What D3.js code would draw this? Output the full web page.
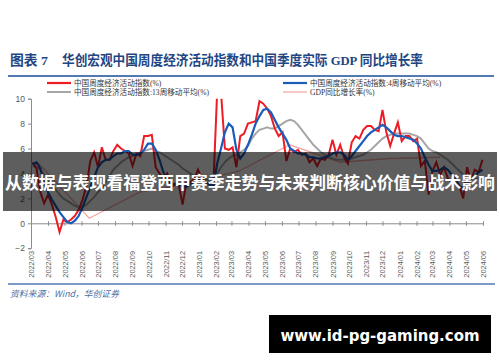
<!DOCTYPE html>
<html><head><meta charset="utf-8">
<script src="https://cdn.jsdelivr.net/npm/d3@7"></script>
<style>body{margin:0;background:#fff}svg{display:block}</style>
</head><body>
<svg id="c" width="500" height="362"></svg>
<script>
// ---- data ----
const monthLabels = ["2022/03","2022/04","2022/05","2022/06","2022/07","2022/08","2022/09","2022/10","2022/11","2022/12",
"2023/01","2023/02","2023/03","2023/04","2023/05","2023/06","2023/07","2023/08","2023/09","2023/10","2023/11","2023/12",
"2024/01","2024/02","2024/03","2024/04","2024/05","2024/06"];
const yTicks = [-2,0,2,4,6,8,10];
const weekStart = "2022-03-04";
const weeklyIndex = [4.9,4.4,2.5,1.6,2.3,1.5,0.5,-0.7,0.3,0.1,0.3,0.6,1.1,1.9,3.0,5.0,5.7,4.5,6.1,5.1,
5.1,5.8,6.3,6.0,5.8,5.6,4.6,5.6,5.4,7.0,7.0,7.1,4.5,4.0,3.6,4.0,2.9,3.2,3.1,1.5,
3.3,3.3,3.5,4.3,3.6,3.3,3.1,3.0,10.6,10.5,6.0,5.9,6.1,4.5,7.0,7.2,8.0,8.1,8.2,9.8,
9.6,9.2,8.6,7.6,7.0,7.3,5.0,6.0,5.7,5.9,5.5,5.6,4.9,5.2,4.6,5.2,5.1,5.5,6.7,5.5,
6.3,5.3,4.8,6.5,7.0,6.8,7.5,7.8,7.8,7.5,7.4,9.1,7.3,6.2,7.2,8.1,6.6,7.0,7.0,6.6,
6.8,4.6,5.0,2.3,4.2,4.9,3.9,4.5,3.6,3.3,3.3,3.0,2.0,4.5,3.4,4.3,4.1,5.1];
const ma4 = [4.7,4.9,4.4,3.2,2.5,1.9,1.4,0.9,0.5,0.1,0.0,0.2,0.6,1.3,2.1,2.9,3.7,4.5,4.9,5.1,
5.1,5.4,5.6,5.6,5.8,5.8,5.5,5.5,5.6,5.9,6.4,6.4,5.9,5.1,4.1,3.5,3.2,3.1,3.1,3.0,
2.9,3.1,3.3,3.5,3.4,3.2,3.1,3.0,4.8,6.0,7.3,8.0,7.7,5.9,5.2,5.6,6.3,7.1,8.0,8.6,
9.1,9.2,8.9,8.3,7.7,7.2,6.7,6.0,5.8,5.6,5.6,5.5,5.3,5.3,5.2,5.2,5.3,5.4,5.6,5.7,
5.7,5.5,5.1,5.4,5.8,6.2,6.6,7.0,7.3,7.5,7.7,7.9,7.7,7.4,7.1,7.0,7.0,6.9,6.8,6.7,
6.4,6.0,5.3,4.7,4.2,4.2,4.3,4.5,4.3,3.9,3.5,3.0,2.8,3.2,3.5,3.8,4.1,4.3];
const ma13 = [4.6,4.5,4.3,3.9,3.5,3.1,2.7,2.3,2.0,1.8,1.6,1.4,1.3,1.3,1.5,1.8,2.1,2.5,2.8,3.3,
3.8,4.3,4.6,4.9,5.1,5.3,5.4,5.5,5.7,5.8,5.9,6.0,5.8,5.7,5.5,5.3,5.1,4.9,4.7,4.4,
4.2,4.0,3.8,3.7,3.6,3.5,3.5,3.6,4.0,4.5,4.9,5.2,5.4,5.5,5.7,5.9,6.2,6.8,7.2,7.5,
7.6,7.7,7.6,7.6,7.8,8.0,8.2,8.3,8.2,7.9,7.5,7.1,6.7,6.3,6.0,5.7,5.5,5.3,5.2,5.1,
5.1,5.1,5.1,5.2,5.3,5.4,5.5,5.7,5.9,6.2,6.5,6.8,7.0,7.1,7.2,7.2,7.2,7.2,7.2,7.1,
7.0,6.8,6.4,6.0,5.8,5.7,5.5,5.3,5.1,4.8,4.5,4.2,3.9,3.7,3.6,3.6,3.6,3.7];
const gdpDates = ["2021-12-15","2022-03-15","2022-06-15","2022-09-15","2022-12-15","2023-03-15","2023-06-15","2023-09-15","2023-12-15","2024-03-15"];
const gdpValues = [4.3,4.8,0.4,2.5,3.2,4.2,6.3,4.9,5.2,5.3];
const legendNames = ["中国周度经济活动指数(%)","中国周度经济活动指数:13周移动平均(%)","中国周度经济活动指数:4周移动平均(%)","GDP同比增长率(%)"];
const colors = {idx:"#ee1c25", ma13:"#a6a6a6", ma4:"#1a5cb8", gdp:"#f3aaa6"};

// ---- build ----
const svg = d3.select("#c");
const parse = d3.timeParse("%Y-%m-%d");
const t0 = parse(weekStart);
const weekDates = weeklyIndex.map((_, i) => d3.timeDay.offset(t0, 7 * i));
const monthDates = monthLabels.map(s => d3.timeParse("%Y/%m")(s));

const x = d3.scaleTime().domain([monthDates[0], monthDates[monthDates.length - 1]]).range([31, 483]);
const y = d3.scaleLinear().domain([-2, 10]).range([248.2, 98.7]);

// title
const titleFont = "'Liberation Serif','Noto Sans CJK SC'";
svg.append("text").attr("x", 10).attr("y", 65)
  .attr("font-family", titleFont).attr("font-weight", 700)
  .attr("font-size", 13.5).attr("fill", "#1f4682")
  .attr("textLength", 38).attr("lengthAdjust", "spacingAndGlyphs")
  .text("图表 7");
svg.append("text").attr("x", 62).attr("y", 65)
  .attr("font-family", titleFont).attr("font-weight", 700)
  .attr("font-size", 13.5).attr("fill", "#1f4682")
  .attr("textLength", 361).attr("lengthAdjust", "spacingAndGlyphs")
  .text("华创宏观中国周度经济活动指数和中国季度实际 GDP 同比增长率");
svg.append("line").attr("x1", 8).attr("x2", 494).attr("y1", 76).attr("y2", 76)
  .attr("stroke", "#5279b0").attr("stroke-width", 2);

// legend
const legendItems = [
  {name: legendNames[0], c: colors.idx, w: 2.2, lx: 47, ly: 83},
  {name: legendNames[1], c: colors.ma13, w: 2, lx: 47, ly: 92},
  {name: legendNames[2], c: colors.ma4, w: 2.2, lx: 283, ly: 83},
  {name: legendNames[3], c: colors.gdp, w: 1.3, lx: 283, ly: 92}
];
const lg = svg.append("g");
legendItems.forEach(d => {
  lg.append("line").attr("x1", d.lx).attr("x2", d.lx + 24).attr("y1", d.ly).attr("y2", d.ly)
    .attr("stroke", d.c).attr("stroke-width", d.w);
  lg.append("text").attr("x", d.lx + 27).attr("y", d.ly + 3)
    .attr("font-family", "'Liberation Serif','Noto Sans CJK SC'").attr("font-size", 7.6).attr("fill", "#333")
    .text(d.name);
});

// axes
const yAxis = d3.axisLeft(y).tickValues(yTicks).tickSize(3).tickPadding(3);
const gy = svg.append("g").attr("transform", "translate(31,0)").call(yAxis);
gy.select(".domain").attr("stroke", "#8c8c8c");
gy.selectAll(".tick line").attr("stroke", "#8c8c8c");
gy.selectAll("text").attr("font-family", "'Liberation Sans',Arial").attr("font-size", 8.5).attr("fill", "#595959");

const xAxis = d3.axisBottom(x).tickValues(monthDates).tickSize(0).tickFormat("");
const gx = svg.append("g").attr("transform", `translate(0,${y(0)})`).call(xAxis);
gx.select(".domain").attr("stroke", "#8c8c8c");
gx.selectAll(".tick").append("line").attr("y1", -2).attr("y2", 2.5).attr("stroke", "#8c8c8c");

svg.append("g").selectAll("text").data(monthDates).join("text")
  .attr("transform", (d) => `translate(${x(d) + 3},251) rotate(-90)`)
  .attr("text-anchor", "end")
  .attr("font-family", "'Liberation Sans',Arial").attr("font-size", 7.4).attr("fill", "#595959")
  .text((d, i) => monthLabels[i]);

// plot
svg.append("clipPath").attr("id", "clip").append("rect")
  .attr("x", 31).attr("y", y(10)).attr("width", 453).attr("height", y(-2) - y(10));
const plot = svg.append("g").attr("clip-path", "url(#clip)");
const line = d3.line().x(d => x(d[0])).y(d => y(d[1]));

plot.append("path").datum(gdpDates.map((s, i) => [parse(s), gdpValues[i]]))
  .attr("d", line).attr("fill", "none").attr("stroke", colors.gdp).attr("stroke-width", 1.3);
plot.append("path").datum(weekDates.map((d, i) => [d, ma13[i]]))
  .attr("d", line).attr("fill", "none").attr("stroke", colors.ma13).attr("stroke-width", 2);
plot.append("path").datum(weekDates.map((d, i) => [d, weeklyIndex[i]]))
  .attr("d", line).attr("fill", "none").attr("stroke", colors.idx).attr("stroke-width", 2);
plot.append("path").datum(weekDates.map((d, i) => [d, ma4[i]]))
  .attr("d", line).attr("fill", "none").attr("stroke", colors.ma4).attr("stroke-width", 2.2);

// footer
svg.append("line").attr("x1", 8).attr("x2", 495).attr("y1", 284).attr("y2", 284)
  .attr("stroke", "#5279b0").attr("stroke-width", 1.6);
svg.append("text").attr("x", 10).attr("y", 297)
  .attr("font-family", "'Noto Sans CJK SC'").attr("font-style", "italic").attr("font-size", 8.8)
  .attr("fill", "#4a6fa5").text("资料来源：Wind，华创证券");

// banner overlay
svg.append("rect").attr("x", 3).attr("y", 152).attr("width", 494).attr("height", 59)
  .attr("fill", "#000").attr("fill-opacity", 0.63);
svg.append("text").attr("x", 250).attr("y", 189).attr("text-anchor", "middle")
  .attr("font-family", "'Noto Sans CJK SC'").attr("font-weight", 700).attr("font-size", 17.4)
  .attr("fill", "#fff").attr("textLength", 490).attr("lengthAdjust", "spacingAndGlyphs")
  .text("从数据与表现看福登西甲赛季走势与未来判断核心价值与战术影响");

// watermark
svg.append("rect").attr("x", 269).attr("y", 315).attr("width", 222).attr("height", 38).attr("fill", "#000");
svg.append("text").attr("x", 380).attr("y", 341).attr("text-anchor", "middle")
  .attr("font-family", "'DejaVu Sans'").attr("font-weight", 700).attr("font-size", 16)
  .attr("fill", "#fff").attr("textLength", 199).attr("lengthAdjust", "spacingAndGlyphs")
  .text("www.id-pg-gaming.com");
</script>
</body></html>
